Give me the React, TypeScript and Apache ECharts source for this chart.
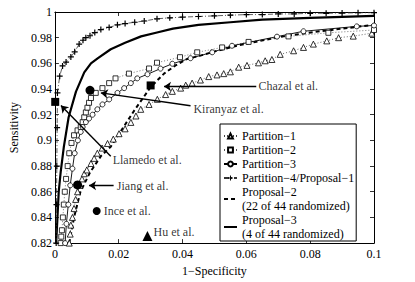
import React, { useEffect, useRef } from "react";
import * as echarts from "echarts";

const FONT = "Liberation Serif";

const xTicks = [0, 0.02, 0.04, 0.06, 0.08, 0.1];
const yTicks = [0.82, 0.84, 0.86, 0.88, 0.9, 0.92, 0.94, 0.96, 0.98, 1];

const p1X = [0.0045, 0.0048, 0.005, 0.0055, 0.006, 0.0065, 0.0071, 0.0078, 0.0085, 0.0092, 0.01, 0.0113, 0.0123, 0.0133, 0.0148, 0.0165, 0.0183, 0.0201, 0.022, 0.0238, 0.0254, 0.0269, 0.0295, 0.0321, 0.0347, 0.0368, 0.0394, 0.041, 0.043, 0.0456, 0.0482, 0.0508, 0.0529, 0.055, 0.0576, 0.0602, 0.0638, 0.0659, 0.068, 0.0706, 0.0748, 0.0779, 0.081, 0.0852, 0.0889, 0.0935, 0.0993];
const p1Y = [0.82, 0.827, 0.834, 0.84, 0.847, 0.854, 0.86, 0.865, 0.87, 0.874, 0.877, 0.882, 0.886, 0.89, 0.894, 0.8976, 0.901, 0.9052, 0.909, 0.914, 0.919, 0.9242, 0.928, 0.932, 0.9357, 0.9382, 0.9407, 0.943, 0.9446, 0.947, 0.9497, 0.951, 0.952, 0.9534, 0.957, 0.9584, 0.9604, 0.962, 0.963, 0.967, 0.9698, 0.9724, 0.975, 0.9775, 0.98, 0.9812, 0.9835];

const p2X = [0.0018, 0.002, 0.0022, 0.0025, 0.0028, 0.0031, 0.0035, 0.004, 0.0045, 0.0052, 0.006, 0.0071, 0.0081, 0.0087, 0.0092, 0.0097, 0.0102, 0.0107, 0.0113, 0.0128, 0.0149, 0.017, 0.019, 0.0232, 0.0295, 0.032, 0.0392, 0.0446, 0.0524, 0.0607, 0.0732, 0.0857, 0.1];
const p2Y = [0.82, 0.825, 0.83, 0.84, 0.85, 0.86, 0.87, 0.88, 0.89, 0.898, 0.904, 0.9078, 0.9104, 0.9142, 0.918, 0.9218, 0.9255, 0.9293, 0.933, 0.937, 0.9407, 0.9446, 0.9483, 0.952, 0.956, 0.9605, 0.9648, 0.9686, 0.9724, 0.9767, 0.981, 0.9838, 0.986];

const p3X = [0.0032, 0.0036, 0.0042, 0.0048, 0.0055, 0.0062, 0.0072, 0.0081, 0.0087, 0.0097, 0.0107, 0.0118, 0.0133, 0.0149, 0.017, 0.0196, 0.0217, 0.0238, 0.0258, 0.029, 0.0331, 0.0368, 0.0425, 0.0493, 0.0555, 0.0696, 0.0779, 0.0946, 0.1];
const p3Y = [0.82, 0.835, 0.85, 0.865, 0.878, 0.89, 0.9, 0.9066, 0.9104, 0.9142, 0.917, 0.92, 0.9242, 0.928, 0.9319, 0.937, 0.9407, 0.9446, 0.9483, 0.9515, 0.9559, 0.9597, 0.964, 0.9686, 0.9737, 0.9808, 0.985, 0.9888, 0.9895];

const p4X = [0.0004, 0.0005, 0.0006, 0.0007, 0.0008, 0.0015, 0.0024, 0.0035, 0.005, 0.0062, 0.0076, 0.0088, 0.0097, 0.011, 0.0125, 0.0144, 0.017, 0.0196, 0.022, 0.025, 0.028, 0.032, 0.036, 0.04, 0.045, 0.05, 0.055, 0.06, 0.065, 0.07, 0.075, 0.08, 0.085, 0.09, 0.095, 0.1];
const p4Y = [0.82, 0.85, 0.88, 0.91, 0.937, 0.95, 0.958, 0.961, 0.965, 0.969, 0.975, 0.978, 0.98, 0.9815, 0.984, 0.9863, 0.988, 0.99, 0.991, 0.992, 0.993, 0.9947, 0.9955, 0.996, 0.9965, 0.997, 0.9975, 0.998, 0.998, 0.9985, 0.9985, 0.999, 0.999, 0.9992, 0.9994, 0.9995];

const pr2X = [0.0045, 0.006, 0.008, 0.011, 0.0145, 0.0175, 0.0206, 0.0248, 0.03, 0.0342, 0.0378, 0.0415, 0.0456, 0.0508, 0.057, 0.0623, 0.0727, 0.0831, 0.1];
const pr2Y = [0.82, 0.84, 0.86, 0.875, 0.888, 0.8951, 0.907, 0.923, 0.9415, 0.952, 0.9584, 0.9635, 0.966, 0.9698, 0.9737, 0.9765, 0.9815, 0.985, 0.99];

const pr3X = [0.0004, 0.0008, 0.0012, 0.0018, 0.0028, 0.0043, 0.0066, 0.0092, 0.0113, 0.0135, 0.0175, 0.022, 0.027, 0.032, 0.037, 0.045, 0.055, 0.065, 0.08, 0.1];
const pr3Y = [0.82, 0.84, 0.86, 0.875, 0.895, 0.918, 0.938, 0.953, 0.96, 0.964, 0.971, 0.976, 0.981, 0.984, 0.987, 0.99, 0.992, 0.994, 0.9955, 0.997];

const refNames = ["Chazal et al.", "Kiranyaz et al.", "Llamedo et al.", "Jiang et al.", "Ince et al.", "Hu et al."];
const refX = [0.03, 0.011, 0.0001, 0.0071, 0.0131, 0.029];
const refY = [0.9428, 0.939, 0.93, 0.8653, 0.845, 0.8256];
const refSymbols = ["rect", "circle", "rect", "circle", "circle", "triangle"];
const refSizes = [8, 9, 8, 9, 8, 10];

const labelX = [0.0638, 0.0434, 0.0181, 0.0194, 0.0153, 0.0309];
const labelY = [0.9423, 0.9245, 0.8846, 0.8647, 0.845, 0.829];

const arrowFromX = [0.0631, 0.0425, 0.0175, 0.0184];
const arrowFromY = [0.942, 0.927, 0.8876, 0.8648];
const arrowToX = [0.0342, 0.0144, 0.0019, 0.0107];
const arrowToY = [0.942, 0.937, 0.9271, 0.8648];

const legendNames = [
  "Partition\u22121",
  "Partition\u22122",
  "Partition\u22123",
  "Partition\u22124/Proposal\u22121",
  "Proposal\u22122\n(22 of 44 randomized)",
  "Proposal\u22123\n(4 of 44 randomized)",
];

const zip = (xs: number[], ys: number[]) => xs.map((x, i) => [x, ys[i]]);

const PLUS = "path://M4,0H6V4H10V6H6V10H4V6H0V4H4Z";

function fmt(v: number) {
  return String(+v.toFixed(3));
}

export default function App() {
  const ref = useRef<HTMLDivElement>(null);
  useEffect(() => {
    if (!ref.current) return;
    const chart = echarts.init(ref.current, undefined, { renderer: "svg" });
    const axisCommon = {
      type: "value" as const,
      axisLine: { show: true, onZero: false, lineStyle: { color: "#000", width: 1 } },
      axisTick: { show: true, inside: true, length: 4, lineStyle: { color: "#000", width: 0.8 } },
      splitLine: { show: false },
    };
    const markerStyle = { color: "#fff", borderColor: "#000", borderWidth: 0.8, opacity: 1 };
    chart.setOption({
      animation: false,
      textStyle: { fontFamily: FONT, color: "#000" },
      grid: { left: 54, right: 41, top: 12, bottom: 33 },
      xAxis: [
        {
          ...axisCommon,
          min: xTicks[0],
          max: xTicks[xTicks.length - 1],
          interval: 0.02,
          name: "1\u2212Specificity",
          nameLocation: "middle",
          nameGap: 15,
          nameTextStyle: { fontFamily: FONT, fontSize: 12, color: "#000" },
          axisLabel: { fontFamily: FONT, fontSize: 12, color: "#000", margin: 5, formatter: fmt },
        },
        {
          ...axisCommon,
          position: "top",
          min: xTicks[0],
          max: xTicks[xTicks.length - 1],
          interval: 0.02,
          axisLabel: { show: false },
        },
      ],
      yAxis: [
        {
          ...axisCommon,
          min: yTicks[0],
          max: yTicks[yTicks.length - 1],
          interval: 0.02,
          name: "Sensitivity",
          nameLocation: "middle",
          nameGap: 26,
          nameTextStyle: { fontFamily: FONT, fontSize: 12, color: "#000" },
          axisLabel: { fontFamily: FONT, fontSize: 12, color: "#000", margin: 3, formatter: fmt },
        },
        {
          ...axisCommon,
          position: "right",
          min: yTicks[0],
          max: yTicks[yTicks.length - 1],
          interval: 0.02,
          axisLabel: { show: false },
        },
      ],
      legend: {
        orient: "vertical",
        left: 220,
        top: 124,
        padding: [5, 2, 0, 3],
        itemGap: 0,
        itemWidth: 13,
        itemHeight: 6,
        borderColor: "#000",
        borderWidth: 1,
        borderRadius: 0,
        backgroundColor: "#fff",
        textStyle: { fontFamily: FONT, fontSize: 12, lineHeight: 14, color: "#000" },
        data: legendNames,
      },
      series: [
        {
          name: legendNames[5],
          type: "line",
          data: zip(pr3X, pr3Y),
          showSymbol: false,
          symbol: "none",
          itemStyle: { color: "#000", opacity: 0 },
          lineStyle: { color: "#000", width: 2.2 },
          z: 2,
        },
        {
          name: legendNames[4],
          type: "line",
          data: zip(pr2X, pr2Y),
          showSymbol: false,
          symbol: "none",
          itemStyle: { color: "#000", opacity: 0 },
          lineStyle: { color: "#000", width: 2, type: [4, 3] },
          z: 2,
        },
        {
          name: legendNames[0],
          type: "line",
          data: zip(p1X, p1Y),
          symbol: "triangle",
          symbolSize: 6,
          itemStyle: markerStyle,
          lineStyle: { color: "#444", width: 0.8, type: [1, 2] },
          z: 3,
        },
        {
          name: legendNames[1],
          type: "line",
          data: zip(p2X, p2Y),
          symbol: "rect",
          symbolSize: 5,
          itemStyle: markerStyle,
          lineStyle: { color: "#555", width: 0.8, type: [1, 2] },
          z: 3,
        },
        {
          name: legendNames[2],
          type: "line",
          data: zip(p3X, p3Y),
          symbol: "circle",
          symbolSize: 5,
          itemStyle: markerStyle,
          lineStyle: { color: "#000", width: 0.9 },
          z: 3,
        },
        {
          name: legendNames[3],
          type: "line",
          data: zip(p4X, p4Y),
          symbol: PLUS,
          symbolSize: 6,
          itemStyle: { color: "#000", opacity: 1 },
          lineStyle: { color: "#333", width: 0.8, type: [5, 2, 1, 2] },
          z: 3,
        },
        {
          name: "arrows",
          type: "lines",
          coordinateSystem: "cartesian2d",
          symbol: ["none", "arrow"],
          symbolSize: [0, 7],
          lineStyle: { color: "#000", width: 1.4, opacity: 1 },
          data: arrowFromX.map((x, i) => ({
            coords: [
              [x, arrowFromY[i]],
              [arrowToX[i], arrowToY[i]],
            ],
          })),
          z: 4,
        },
        {
          name: "refs",
          type: "scatter",
          data: refNames.map((n, i) => ({
            name: n,
            value: [refX[i], refY[i]],
            symbol: refSymbols[i],
            symbolSize: refSizes[i],
          })),
          itemStyle: { color: "#000", opacity: 1 },
          z: 5,
        },
        {
          name: "labels",
          type: "scatter",
          symbolSize: 0,
          data: refNames.map((n, i) => ({ name: n, value: [labelX[i], labelY[i]] })),
          label: {
            show: true,
            position: [0, 0],
            align: "left",
            verticalAlign: "middle",
            formatter: (p: any) => p.name,
            fontFamily: FONT,
            fontSize: 12,
            color: "#000",
          },
          z: 6,
        },
      ],
    });
    return () => chart.dispose();
  }, []);
  return (
    <div
      ref={ref}
      style={{ position: "fixed", left: 0, top: 0, width: 415, height: 282, background: "#fff" }}
    />
  );
}
